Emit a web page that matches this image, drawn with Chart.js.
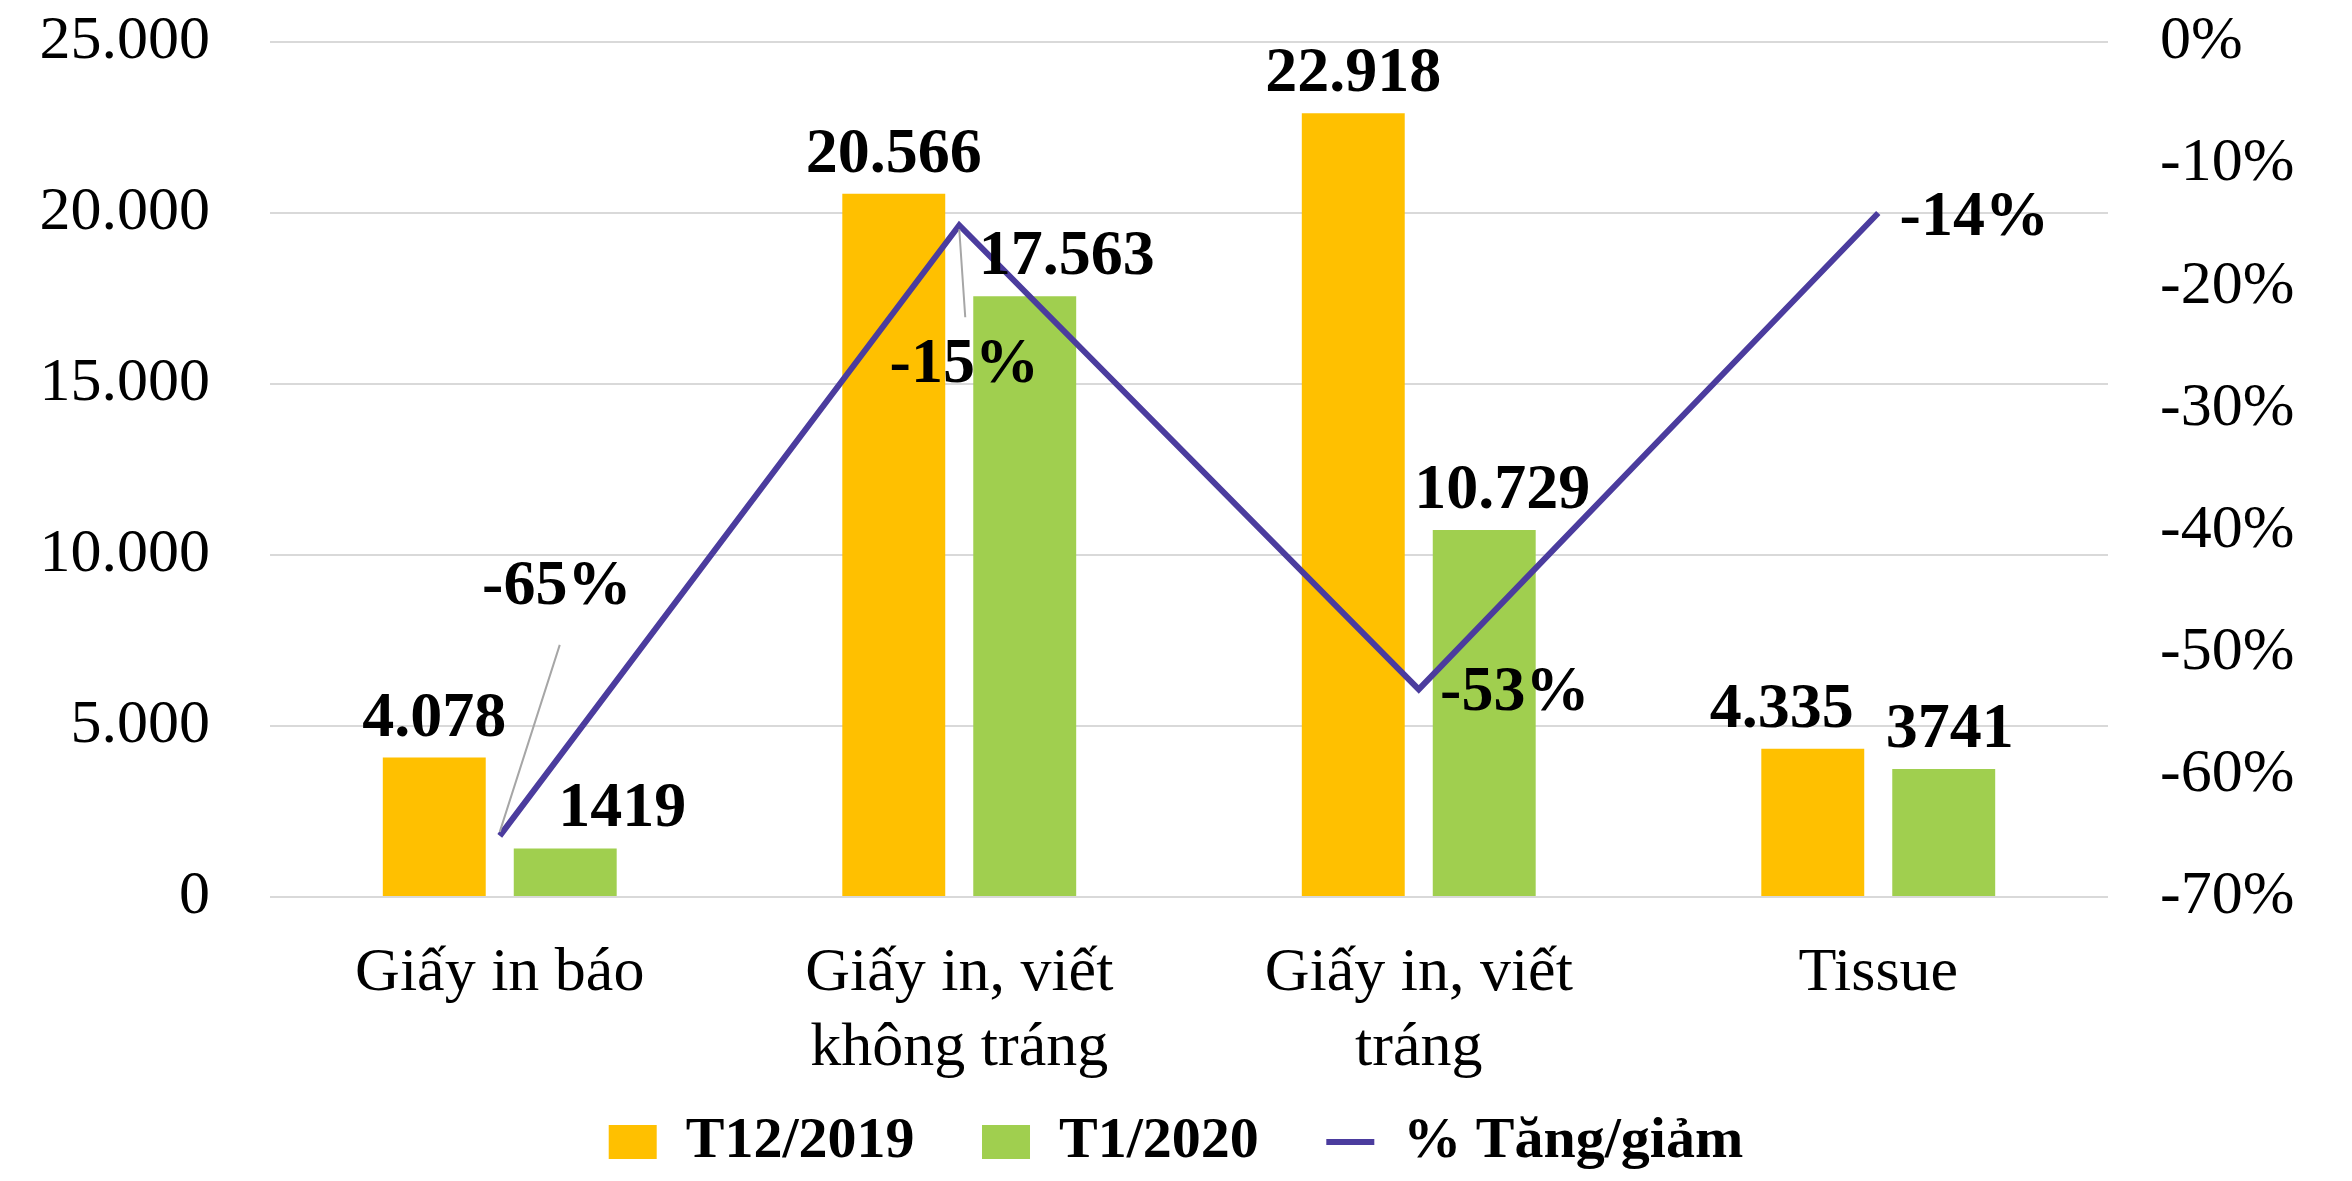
<!DOCTYPE html>
<html>
<head>
<meta charset="utf-8">
<script src="https://cdn.jsdelivr.net/npm/chart.js@4.4.0/dist/chart.umd.min.js"></script>
<style>
  html, body { margin: 0; padding: 0; background: #fff; }
  #wrap { width: 2352px; height: 1181px; }
</style>
</head>
<body>
<div id="wrap"><canvas id="chart" width="2352" height="1181"></canvas></div>
<script>
// categories + values
const categories = ['Giấy in báo', ['Giấy in, viết', 'không tráng'], ['Giấy in, viết', 'tráng'], 'Tissue'];
const t12Values = [4078, 20566, 22918, 4335];
const t1Values = [1419, 17563, 10729, 3741];
const pctValues = [-0.65, -0.15, -0.53, -0.14];

// label texts exactly as printed
const t12Labels = ['4.078', '20.566', '22.918', '4.335'];
const t1Labels = ['1419', '17.563', '10.729', '3741'];
const pctLabels = ['-65%', '-15%', '-53%', '-14%'];

// label nudges (px) relative to the drawn element
const t12Dx = [0, 0, 0, -31];
const t1Dx = [57, 42, 18, 6];
const pctDx = [57, 5, 96, 96];
const pctDy = [-232, 157, 21, 22];

const FONT = '"Liberation Serif", "Times New Roman", serif';

function dotted(v) {
  return String(v).replace(/\B(?=(\d{3})+(?!\d))/g, '.');
}

// keep the plot area exactly where the reference has it
function noVPad(scale) {
  scale.paddingTop = 0;
  scale.paddingBottom = 0;
}

const labelPlugin = {
  id: 'valueLabels',
  afterDatasetsDraw(chart) {
    const ctx = chart.ctx;
    ctx.save();
    ctx.fillStyle = '#000';
    ctx.font = 'bold 64px ' + FONT;
    ctx.textAlign = 'center';
    ctx.textBaseline = 'alphabetic';

    chart.getDatasetMeta(0).data.forEach((bar, i) => {
      ctx.fillText(t12Labels[i], bar.x + t12Dx[i], bar.y - 22);
    });
    chart.getDatasetMeta(1).data.forEach((bar, i) => {
      ctx.fillText(t1Labels[i], bar.x + t1Dx[i], bar.y - 22);
    });

    const pts = chart.getDatasetMeta(2).data;
    // leader lines for the two moved labels
    ctx.strokeStyle = '#A6A6A6';
    ctx.lineWidth = 2;
    ctx.beginPath();
    ctx.moveTo(pts[0].x + 60, pts[0].y - 191);
    ctx.lineTo(pts[0].x, pts[0].y - 4);
    ctx.moveTo(pts[1].x, pts[1].y + 4);
    ctx.lineTo(pts[1].x + 6, pts[1].y + 92);
    ctx.stroke();

    pts.forEach((p, i) => {
      ctx.fillText(pctLabels[i], p.x + pctDx[i], p.y + pctDy[i]);
    });
    ctx.restore();
  }
};

new Chart(document.getElementById('chart'), {
  type: 'bar',
  data: {
    labels: categories,
    datasets: [
      {
        label: 'T12/2019',
        data: t12Values,
        backgroundColor: '#FFC000',
        borderWidth: 0,
        yAxisID: 'y',
        order: 1,
        categoryPercentage: 0.57,
        barPercentage: 0.786
      },
      {
        label: 'T1/2020',
        data: t1Values,
        backgroundColor: '#A0CF4F',
        borderWidth: 0,
        yAxisID: 'y',
        order: 1,
        categoryPercentage: 0.57,
        barPercentage: 0.786
      },
      {
        type: 'line',
        label: '% Tăng/giảm',
        data: pctValues,
        borderColor: '#4B3C9E',
        backgroundColor: '#4B3C9E',
        borderWidth: 6,
        pointRadius: 0,
        tension: 0,
        yAxisID: 'y1',
        order: 0
      }
    ]
  },
  options: {
    responsive: false,
    devicePixelRatio: 1,
    animation: false,
    layout: { padding: { top: 42, left: 0, right: 0, bottom: 0 } },
    plugins: {
      tooltip: { enabled: false },
      legend: {
        position: 'bottom',
        labels: {
          usePointStyle: true,
          pointStyleWidth: 48,
          boxHeight: 34,
          padding: 24,
          color: '#000',
          font: { family: FONT, size: 58, weight: 'bold' },
          sort: (a, b) => a.datasetIndex - b.datasetIndex,
          generateLabels(chart) {
            const n = chart.data.datasets.length;
            return chart.data.datasets.map((ds, i) => ({
              // trailing spaces widen the gap between legend entries
              text: ds.label + (i < n - 1 ? '   ' : ''),
              datasetIndex: i,
              fillStyle: ds.type === 'line' ? ds.borderColor : ds.backgroundColor,
              strokeStyle: ds.type === 'line' ? ds.borderColor : ds.backgroundColor,
              lineWidth: ds.type === 'line' ? 6 : 0,
              pointStyle: ds.type === 'line' ? 'line' : 'rect',
              hidden: false
            }));
          }
        }
      }
    },
    scales: {
      x: {
        grid: { display: false, drawTicks: false },
        border: { display: false },
        ticks: {
          color: '#000',
          padding: 40,
          maxRotation: 0,
          font: { family: FONT, size: 62 }
        },
        afterFit(scale) { scale.height = 192; }
      },
      y: {
        position: 'left',
        min: 0,
        max: 25000,
        grid: { color: '#D9D9D9', lineWidth: 2, drawTicks: false },
        border: { display: false },
        ticks: {
          stepSize: 5000,
          color: '#000',
          padding: 60,
          font: { family: FONT, size: 62 },
          callback: v => dotted(v)
        },
        afterFit(scale) { scale.width = 270; noVPad(scale); }
      },
      y1: {
        position: 'right',
        min: -0.7,
        max: 0,
        grid: { display: false, drawTicks: false },
        border: { display: false },
        ticks: {
          stepSize: 0.1,
          color: '#000',
          padding: 52,
          font: { family: FONT, size: 62 },
          callback: v => Math.round(v * 100) + '%'
        },
        afterFit(scale) { scale.width = 244; noVPad(scale); }
      }
    }
  },
  plugins: [labelPlugin]
});
</script>
</body>
</html>
